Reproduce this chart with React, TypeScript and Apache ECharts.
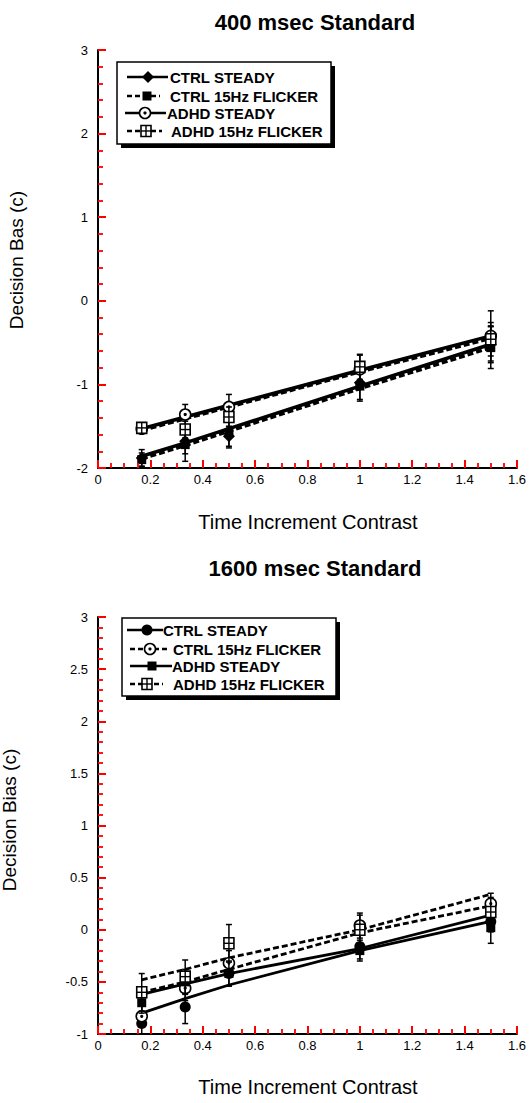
import React, { useEffect, useRef } from "react";
import * as echarts from "echarts";

// ---------- data ----------
const xValues = [0.167, 0.333, 0.5, 1.0, 1.5];
const conditionNames = ["CTRL STEADY", "CTRL 15Hz FLICKER", "ADHD STEADY", "ADHD 15Hz FLICKER"];

const m400CtrlSteady = [-1.88, -1.68, -1.62, -0.98, -0.52];
const m400CtrlFlicker = [-1.9, -1.72, -1.58, -1.02, -0.56];
const m400AdhdSteady = [-1.53, -1.36, -1.27, -0.82, -0.42];
const m400AdhdFlicker = [-1.52, -1.54, -1.39, -0.79, -0.46];
const e400CtrlSteady = [0.1, 0.15, 0.12, 0.2, 0.22];
const e400CtrlFlicker = [0.08, 0.2, 0.18, 0.18, 0.25];
const e400AdhdSteady = [0.05, 0.12, 0.15, 0.17, 0.3];
const e400AdhdFlicker = [0.05, 0.1, 0.12, 0.15, 0.2];
const f400CtrlSteady = [-1.86, -1.7, -1.53, -1.02, -0.52];
const f400CtrlFlicker = [-1.89, -1.73, -1.56, -1.05, -0.56];
const f400AdhdSteady = [-1.53, -1.39, -1.25, -0.83, -0.42];
const f400AdhdFlicker = [-1.55, -1.41, -1.27, -0.85, -0.45];

const m1600CtrlSteady = [-0.9, -0.74, -0.42, -0.16, 0.08];
const m1600CtrlFlicker = [-0.83, -0.56, -0.32, 0.04, 0.25];
const m1600AdhdSteady = [-0.7, -0.5, -0.42, -0.2, 0.02];
const m1600AdhdFlicker = [-0.6, -0.45, -0.13, 0.0, 0.17];
const e1600CtrlSteady = [0.1, 0.16, 0.12, 0.12, 0.1];
const e1600CtrlFlicker = [0.1, 0.12, 0.12, 0.12, 0.1];
const e1600AdhdSteady = [0.1, 0.12, 0.12, 0.1, 0.15];
const e1600AdhdFlicker = [0.18, 0.16, 0.18, 0.14, 0.14];
const f1600CtrlSteady = [-0.8, -0.66, -0.53, -0.2, 0.08];
const f1600CtrlFlicker = [-0.6, -0.5, -0.38, -0.03, 0.23];
const f1600AdhdSteady = [-0.62, -0.52, -0.42, -0.18, 0.14];
const f1600AdhdFlicker = [-0.48, -0.38, -0.27, 0.0, 0.34];

const titles = ["400 msec Standard", "1600 msec Standard"];
const xAxisName = "Time Increment Contrast";
const yAxisNames = ["Decision Bas (c)", "Decision Bias (c)"];

const BLACK = "#000";
const TICK = "red";
const FONT = "Liberation Sans";

function makeMarker(kind: string, cx: number, cy: number): any[] {
  switch (kind) {
    case "diamond":
      return [{ type: "polygon", shape: { points: [[cx, cy - 6], [cx + 6, cy], [cx, cy + 6], [cx - 6, cy]] }, style: { fill: BLACK } }];
    case "filledCircle":
      return [{ type: "circle", shape: { cx, cy, r: 5.5 }, style: { fill: BLACK } }];
    case "filledSquare":
      return [{ type: "rect", shape: { x: cx - 4.5, y: cy - 4.5, width: 9, height: 9 }, style: { fill: BLACK } }];
    case "dotCircle":
      return [
        { type: "circle", shape: { cx, cy, r: 5.5 }, style: { fill: "#fff", stroke: BLACK, lineWidth: 1.6 } },
        { type: "circle", shape: { cx, cy, r: 1.6 }, style: { fill: BLACK } },
      ];
    case "crossSquare":
    default:
      return [
        { type: "rect", shape: { x: cx - 5, y: cy - 5.5, width: 10, height: 11 }, style: { fill: "#fff", stroke: BLACK, lineWidth: 1.6 } },
        { type: "line", shape: { x1: cx - 5, y1: cy, x2: cx + 5, y2: cy }, style: { stroke: BLACK, lineWidth: 1.4 } },
        { type: "line", shape: { x1: cx, y1: cy - 5.5, x2: cx, y2: cy + 5.5 }, style: { stroke: BLACK, lineWidth: 1.4 } },
      ];
  }
}

type Cond = { name: string; kind: string; dashed: boolean; means: number[]; errs: number[]; fit: number[] };

const panel400: Cond[] = [
  { name: conditionNames[0], kind: "diamond", dashed: false, means: m400CtrlSteady, errs: e400CtrlSteady, fit: f400CtrlSteady },
  { name: conditionNames[1], kind: "filledSquare", dashed: true, means: m400CtrlFlicker, errs: e400CtrlFlicker, fit: f400CtrlFlicker },
  { name: conditionNames[2], kind: "dotCircle", dashed: false, means: m400AdhdSteady, errs: e400AdhdSteady, fit: f400AdhdSteady },
  { name: conditionNames[3], kind: "crossSquare", dashed: true, means: m400AdhdFlicker, errs: e400AdhdFlicker, fit: f400AdhdFlicker },
];
const panel1600: Cond[] = [
  { name: conditionNames[0], kind: "filledCircle", dashed: false, means: m1600CtrlSteady, errs: e1600CtrlSteady, fit: f1600CtrlSteady },
  { name: conditionNames[1], kind: "dotCircle", dashed: true, means: m1600CtrlFlicker, errs: e1600CtrlFlicker, fit: f1600CtrlFlicker },
  { name: conditionNames[2], kind: "filledSquare", dashed: false, means: m1600AdhdSteady, errs: e1600AdhdSteady, fit: f1600AdhdSteady },
  { name: conditionNames[3], kind: "crossSquare", dashed: true, means: m1600AdhdFlicker, errs: e1600AdhdFlicker, fit: f1600AdhdFlicker },
];

function buildSeries(g: number, conds: Cond[], lineWidth: number): any[] {
  const lines = conds.map((c) => ({
    type: "line",
    name: c.name + " fit",
    xAxisIndex: g,
    yAxisIndex: g,
    data: xValues.map((x, i) => [x, c.fit[i]]),
    symbol: "none",
    silent: true,
    z: 2,
    lineStyle: { color: BLACK, width: lineWidth, type: c.dashed ? [6, 3] : "solid" },
  }));
  const marks = conds.map((c) => ({
    type: "custom",
    name: c.name,
    xAxisIndex: g,
    yAxisIndex: g,
    coordinateSystem: "cartesian2d",
    encode: { x: 0, y: 1 },
    silent: true,
    z: 3,
    data: xValues.map((x, i) => [x, c.means[i], c.errs[i]]),
    renderItem: (params: any, api: any) => {
      const x = api.value(0);
      const y = api.value(1);
      const e = api.value(2);
      const p = api.coord([x, y]);
      const hi = api.coord([x, y + e]);
      const lo = api.coord([x, y - e]);
      const st = { stroke: BLACK, lineWidth: 1.5 };
      return {
        type: "group",
        children: [
          { type: "line", shape: { x1: p[0], y1: hi[1], x2: p[0], y2: lo[1] }, style: st },
          { type: "line", shape: { x1: p[0] - 3, y1: hi[1], x2: p[0] + 3, y2: hi[1] }, style: st },
          { type: "line", shape: { x1: p[0] - 3, y1: lo[1], x2: p[0] + 3, y2: lo[1] }, style: st },
          ...makeMarker(c.kind, p[0], p[1]),
        ],
      };
    },
  }));
  return [...lines, ...marks];
}

type LegendRow = { y: number; lx1: number; lx2: number; mx: number; tx: number };

function buildLegend(conds: Cond[], box: { x: number; y: number; w: number; h: number }, rows: LegendRow[]): any {
  const children: any[] = [
    { type: "rect", shape: { x: box.x + 4, y: box.y + 4, width: box.w, height: box.h }, style: { fill: BLACK } },
    { type: "rect", shape: { x: box.x, y: box.y, width: box.w, height: box.h }, style: { fill: "#fff", stroke: BLACK, lineWidth: 1.5 } },
  ];
  conds.forEach((c, i) => {
    const r = rows[i];
    children.push({
      type: "line",
      shape: { x1: r.lx1, y1: r.y, x2: r.lx2, y2: r.y },
      style: { stroke: BLACK, lineWidth: 2.5, lineDash: c.dashed ? [5, 3] : null },
    });
    children.push(...makeMarker(c.kind, r.mx, r.y));
    children.push({
      type: "text",
      x: r.tx,
      y: r.y,
      style: { text: c.name, fill: BLACK, fontSize: 15, fontWeight: "bold", fontFamily: FONT, align: "left", verticalAlign: "middle" },
    });
  });
  return { type: "group", children };
}

function axisCommon() {
  return {
    z: 5,
    axisLine: { show: true, onZero: false, lineStyle: { color: BLACK, width: 2 } },
    axisTick: { show: true, inside: true, length: 8, lineStyle: { color: TICK, width: 2 } },
    minorTick: { show: true, length: 5, lineStyle: { color: TICK, width: 1.8 } },
    splitLine: { show: false },
    minorSplitLine: { show: false },
  };
}

export default function App() {
  const ref = useRef<HTMLDivElement>(null);
  useEffect(() => {
    if (!ref.current) return;
    const chart = echarts.init(ref.current, undefined, { renderer: "svg" });
    const option: any = {
      animation: false,
      backgroundColor: "#fff",
      title: [
        { text: titles[0], left: 310, top: 6, textAlign: "center", textStyle: { fontSize: 22, fontWeight: "bold", fontFamily: FONT, color: BLACK } },
        { text: titles[1], left: 310, top: 552, textAlign: "center", textStyle: { fontSize: 22, fontWeight: "bold", fontFamily: FONT, color: BLACK } },
      ],
      grid: [
        { left: 98, top: 50, width: 420, height: 418 },
        { left: 98, top: 617, width: 420, height: 417 },
      ],
      xAxis: [0, 1].map((g) => ({
        gridIndex: g,
        type: "value",
        min: 0,
        max: 1.6,
        interval: 0.2,
        ...axisCommon(),
        minorTick: { ...axisCommon().minorTick, splitNumber: 4 },
        axisLabel: { color: BLACK, fontSize: 13, fontFamily: FONT, margin: 5 },
      })),
      yAxis: [
        { gridIndex: 0, type: "value", min: -2, max: 3, interval: 1, ...axisCommon(), minorTick: { ...axisCommon().minorTick, splitNumber: 5 }, axisLabel: { color: BLACK, fontSize: 13, fontFamily: FONT, margin: 10 } },
        { gridIndex: 1, type: "value", min: -1, max: 3, interval: 0.5, ...axisCommon(), minorTick: { ...axisCommon().minorTick, splitNumber: 5 }, axisLabel: { color: BLACK, fontSize: 13, fontFamily: FONT, margin: 10 } },
      ],
      graphic: [
        { type: "text", x: 308, y: 522, style: { text: xAxisName, fill: BLACK, fontSize: 20, fontFamily: FONT, align: "center", verticalAlign: "middle" } },
        { type: "text", x: 308, y: 1087, style: { text: xAxisName, fill: BLACK, fontSize: 20, fontFamily: FONT, align: "center", verticalAlign: "middle" } },
        { type: "text", x: 16, y: 260, rotation: Math.PI / 2, style: { text: yAxisNames[0], fill: BLACK, fontSize: 19, fontFamily: FONT, align: "center", verticalAlign: "middle" } },
        { type: "text", x: 9, y: 820, rotation: Math.PI / 2, style: { text: yAxisNames[1], fill: BLACK, fontSize: 19, fontFamily: FONT, align: "center", verticalAlign: "middle" } },
        buildLegend(panel400, { x: 117, y: 62, w: 214, h: 82 }, [
          { y: 77, lx1: 127, lx2: 168, mx: 148, tx: 170 },
          { y: 96, lx1: 127, lx2: 160, mx: 147, tx: 170 },
          { y: 113, lx1: 125, lx2: 166, mx: 145, tx: 167 },
          { y: 131, lx1: 127, lx2: 162, mx: 146, tx: 171 },
        ]),
        buildLegend(panel1600, { x: 122, y: 618, w: 214, h: 78 }, [
          { y: 630, lx1: 127, lx2: 163, mx: 147, tx: 163 },
          { y: 649, lx1: 130, lx2: 170, mx: 150, tx: 173 },
          { y: 666, lx1: 130, lx2: 172, mx: 152, tx: 172 },
          { y: 684, lx1: 130, lx2: 163, mx: 147, tx: 173 },
        ]),
      ],
      series: [...buildSeries(0, panel400, 3.5), ...buildSeries(1, panel1600, 2.8)],
    };
    chart.setOption(option);
    return () => chart.dispose();
  }, []);
  return <div ref={ref} style={{ position: "absolute", left: 0, top: 0, width: 529, height: 1103, background: "#fff" }} />;
}
